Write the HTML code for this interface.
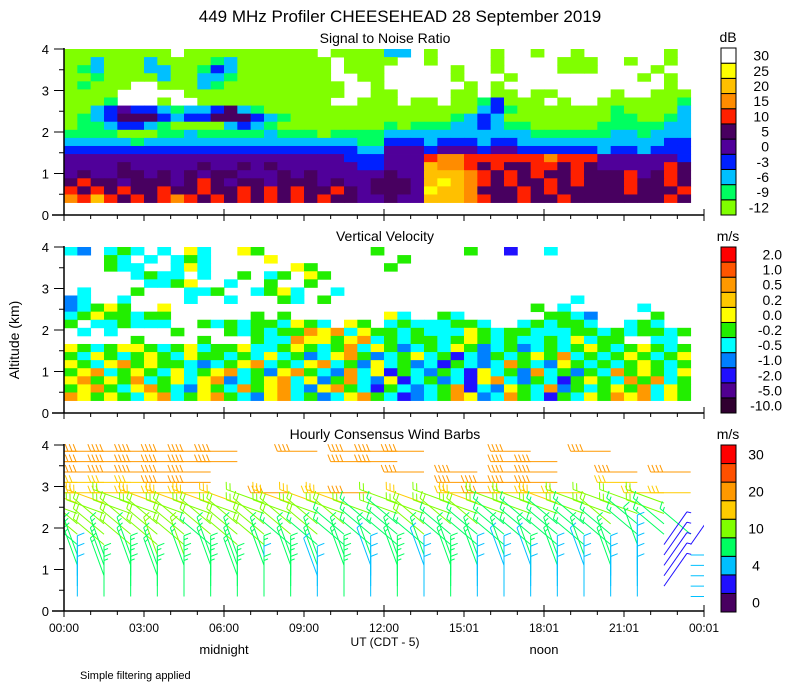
<!DOCTYPE html>
<html><head><meta charset="utf-8">
<style>
html,body{margin:0;padding:0;background:#fff;}
svg{display:block;font-family:"Liberation Sans",sans-serif;}
text{fill:#000;}
</style></head>
<body>
<svg id="chart" width="800" height="700" viewBox="0 0 800 700">
<defs>
<clipPath id="clip1"><rect x="64" y="40" width="640" height="176"/></clipPath>
<clipPath id="clip2"><rect x="64" y="238" width="640" height="176"/></clipPath>
<clipPath id="clip3"><rect x="64" y="436" width="640" height="176"/></clipPath>
</defs>
<text x="400" y="22" font-size="17" text-anchor="middle">449 MHz Profiler CHEESEHEAD 28 September 2019</text>
<text x="385" y="43" font-size="14" text-anchor="middle">Signal to Noise Ratio</text>
<text x="385" y="241" font-size="14" text-anchor="middle">Vertical Velocity</text>
<text x="385" y="439" font-size="14" text-anchor="middle">Hourly Consensus Wind Barbs</text>
<text transform="translate(19,340) rotate(-90)" font-size="14" text-anchor="middle">Altitude (km)</text>
<text x="385" y="646" font-size="12" text-anchor="middle">UT  (CDT - 5)</text>
<text x="224" y="654" font-size="13" text-anchor="middle">midnight</text>
<text x="544" y="654" font-size="13" text-anchor="middle">noon</text>
<text x="80" y="679" font-size="11">Simple filtering applied</text>
<g id="p1" clip-path="url(#clip1)"></g>
<g id="p2" clip-path="url(#clip2)"></g>
<g id="p3" clip-path="url(#clip3)"></g>
<g id="axes"></g>
<g id="bars"></g>
</svg>
<script>
// ---- data ----
var xTickLabels = ["00:00","03:00","06:00","09:00","12:00","15:01","18:01","21:01","00:01"];
var yTickLabels = ["0","1","2","3","4"];
// SNR grid (top row = highest altitude); left = 00-12 UT (24 half-hours), right = 12-23.5 UT (23)
var snrLeft = [
 "aaaaaaaa aaaaaaaaaa aaaa",
 "aacaaacaaaabcaaaaaaa aaa",
 "abcaaaccaabdcaaaaaaa aaa",
 "aabaaaacaaccbaaaaaaa  aa",
 "abaaa  aaacbaaaaaaaaa  a",
 "aaaa     aaaaaaaaaaaa  a",
 "aaab   a  aaaaaaaaaa  aa",
 "aacdeddcbccdfcbaaaaaaaaa",
 "abcdfffdcddfffdcbaaaaaaa",
 "abbcddcbaaaacdcbaaaaaaaa",
 "bbbbaaabbcbbbbbcbbbabbbb",
 "cccccbccccccccccccccccbb",
 "ddddddddddddddddddddddcc",
 "eeeeeeeeeeeeeeeeeeeeeddd",
 "eeeefeeeeefeefefeeeeeedd",
 "efeeffefefeffeeefefeeeee",
 "fgffefffefgfeffefffefeef",
 "gfgfgffgffgffgfgfgffgfef",
 "hgigfgfghgfgfgfgfgfgffee"
];
var snrRight = [
 "cc a    a  a  a      a ",
 "a  a    a    aaa  a  a ",
 "     a  a    aaa    a  ",
 "     a   a         a a ",
 "      a a            a ",
 "a    aa aa aa    a  aaa",
 "a aa aabdaaa a  aaaaaab",
 "aaaaaaacdbaaaaaaabaaaac",
 "aaaaabcdcaaaaaaaabbaabc",
 "babbbccdcbbaaaaabbbbbcc",
 "cccccccccccbbbbbbccbccc",
 "dddcdddcddcccccccccccdd",
 "eeedeeedeeddddddcddcddd",
 "eeeghhgggggghgggeeeeeed",
 "eeeihhgfgffggfgfeeeeegf",
 "feeiiihgfgfgffgfffgefgf",
 "ffeijihgfgffgfgfffgffgf",
 "ffejiihfffgfgfffffgfffg",
 "feeiiihgffgffgfffffffgf"
];
var snrCodes = "abcdefghijk";
var snrColors = ["#80ff00","#00ff60","#00c0ff","#0020ff","#50009a","#480060","#ff2000","#ff8c00","#ffc000","#ffff00","#ffffff"];
var snrLabels = ["-12","-9","-6","-3","0","5","10","15","20","25","30"];
// vertical velocity grid
var velRows = [
 "cb cgc c yc  yg        g      g  B  c         ",
 "   gc c cgc    y         g                    ",
 "   gcc  cyc      yg     g                     ",
 "     cgcc c  g cg yg                          ",
 "      ccgy  c  g  g                           ",
 " c   g   ccg  cgyc  c                         ",
 "bc  c    c  c   gc g                  c       ",
 "bcgyg  y                           g c     c  ",
 "cgyggcgg      g g       yc  gc      ggcb    g  ",
 "g ccgccc  gcgcggcygc yg cgcccggc  cgcggc  cgc  ",
 " c c    g   gcgcggOyOcyggcgcccygcggcccggcgcggcg",
 "     g    g   gccOyygyOcgcggcgygcgccgcycgg  cc ",
 "ygcgyygcgycggyccgygcgOcygbcgcygbcgbcgcgygcgygcg",
 "gcygcgygcyggcgcycgbcyOgbcgycgBcbgcgygOcgcgygcgy",
 "ygcyOgyggcbcgyOcgcyOcgbycgbcBgcbcOgcbygcgcgygcg",
 "gyOcgygcycgyOcgbyOgcbOcyBgcbgcBycgbOcgbgcOgygcy",
 "yOgygOcgycyObcgyOcybgOcbyBcgbcByOcbgcBgygcOgOcg",
 "gyOgcyOgcbygcOgyOcbyOgcBgcbcgOBcbygcObgcgygOcyg",
 "OygygcyOcgyOgcbyOcgbcyOgcBbcgOybcOgcBgcygOyOcyg"
];
var velCodes = "kpBbcgyoOrR";
var velColors = ["#300030","#500090","#2010ff","#0080ff","#00ffff","#22ee00","#ffff00","#ffc800","#ff9900","#ff5500","#ff0000"];
var velLabels = ["-10.0","-5.0","-2.0","-1.0","-0.5","-0.2","0.0","0.2","0.5","1.0","2.0"];
// wind barbs: rows top (3.85 km) to bottom (0.35 km), one char per hourly column
var windLevels = [3.85,3.6,3.35,3.1,2.85,2.6,2.35,2.1,1.85,1.6,1.35,1.1,0.85,0.6,0.35];
var windSpdRows = [
 "GGGGGGG  G GGG   G  G   ",
 "GGGGGGG    GG    GG     ",
 "GGGGGG       G G GG  G G",
 "FFFFGG         GGGG  F  ",
 "FFFFFF  G FG   FGFFF  FF",
 "FFEFFFFEFFF EFEFEEFEEEE ",
 "EEEEEEEEEEEEEEEEEEEEEEE ",
 "EEEEEEEEEEEDDEEEDDDDEDD ",
 "EEEEEEEEEEDDDEDDDDDDDDDD",
 "DEEEEDEEDDDDDDDDDDDDDDBB",
 "DDDEEDDDDDDDDDDDDDDDDCBC",
 "DDDDDDDDDDDCDCDDCCDCDCBC",
 "CDDDDDDDDCDCDCDCCDCCCCBC",
 "CDDDDDDCDCDCDCDCCCCCCCBC",
 "CDDDDDDDDCDCDCDCCCCCCC C"
];
var windDirRows = [
 "WWWWWWWWWWWWWWWWWWWWWWWW",
 "WWWWWWWWWWWWWWWWWWWWWWWW",
 "WWWWWWWWWWWWWWWWWWWWWWWW",
 "WWWWWWWWWWWWWWWWWWWWWWWW",
 "WWWWWWWWWWWWWWWWWWWWWWWW",
 "wwwwwwwwwwwwwwwwwwwwwwww",
 "wwwwwwwwwwwwwwwwwwwwwwww",
 "mmmmmmmmmmmmmmmmmmmmmmmm",
 "mmmmmmmmmmmmmmmmmmmmmmmm",
 "mmmmmmmmmmmmmmmmmmmmmnee",
 "nnnnnnnnnnnnnnnnnnnnnNeE",
 "nnnnnnnnnnnnnnnnnnnnnNeE",
 "NnNnNNnNNnNNNNNNNNNNNNeE",
 "NNNNNNNNNNNNNNNNNNNNNNeE",
 "NNNNNNNNNNNNNNNNNNNNNNNE"
];
var spdCodes = "ABCDEFGHI";
var spdValues = [1,3,5.5,8.5,12,17,22,27,32];
var windColors = ["#480060","#2010ff","#00c0ff","#00ff60","#80ff00","#ffcc00","#ff9900","#ff5000","#ff0000"];
var windLabels = ["0","4","10","20","30"];
var dirCodes = {W:270, w:290, m:310, n:340, N:0, e:35, E:90};

// ---- axes ----
var NS = "http://www.w3.org/2000/svg";
var X0 = 64, X1 = 704;
var panelBottoms = [215, 413, 611];
function xScale(h){ return X0 + h/24*(X1-X0); }
function yScale(p, km){ return panelBottoms[p] - km*41.5; }
function mk(tag, attrs, parent){
  var e = document.createElementNS(NS, tag);
  for (var k in attrs) e.setAttribute(k, attrs[k]);
  parent.appendChild(e); return e;
}
var axes = document.getElementById('axes');
for (var p=0; p<3; p++){
  var yl = mk('line',{x1:X0,y1:yScale(p,4)-1,x2:X0,y2:panelBottoms[p],stroke:'#000','stroke-width':1.5},axes);
  
  
  var xl = mk('line',{x1:52,y1:panelBottoms[p],x2:X1,y2:panelBottoms[p],stroke:'#000','stroke-width':1.5},axes);
  
  
  for (var k=0;k<yTickLabels.length;k++){
    var ty = yScale(p,k);
    mk('line',{x1:X0-10,y1:ty,x2:X0,y2:ty,stroke:'#000'},axes);
    if (k<4) mk('line',{x1:X0-5,y1:yScale(p,k+0.5),x2:X0,y2:yScale(p,k+0.5),stroke:'#000'},axes);
    var t = mk('text',{x:X0-15,y:ty+5,'font-size':13,'text-anchor':'end'},axes);
    t.textContent = yTickLabels[k];
    
    
  }
  for (var h=0; h<=24; h++){
    var big = (h%3===0);
    mk('line',{x1:xScale(h),y1:panelBottoms[p]+(h%6===0?-6:0),x2:xScale(h),y2:panelBottoms[p]+(big?6:4),stroke:'#000'},axes);
  }
}
for (var i=0;i<xTickLabels.length;i++){
  var t = mk('text',{x:xScale(i*3),y:632,'font-size':12,'text-anchor':'middle'},axes);
  t.textContent = xTickLabels[i];
  
  
}

// ---- heatmaps ----
function drawGrid(rows, codes, colors, g, p){
  var nR = rows.length, dh = (4-0.3)/nR;
  for (var r=0; r<nR; r++){
    var s = rows[r], lvl = nR-1-r;
    for (var c=0; c<47; c++){
      var ch = s.charAt(c);
      var idx = codes.indexOf(ch);
      if (!ch || idx<0) continue;
      var x = xScale(c*0.5), w = xScale(c*0.5+0.5)-x;
      var yTop = yScale(p, 0.3+(lvl+1)*dh), yBot = yScale(p, 0.3+lvl*dh);
      var rc = mk('rect',{x:x,y:yTop,width:w+0.4,height:yBot-yTop+0.4,fill:colors[idx]},g);
      
      
    }
  }
}
var snrRows = [];
for (var r=0; r<snrLeft.length; r++){
  snrRows.push(snrLeft[r].padEnd(24,' ').slice(0,24) + snrRight[r].padEnd(23,' ').slice(0,23));
}
drawGrid(snrRows, snrCodes, snrColors, document.getElementById('p1'), 0);
drawGrid(velRows, velCodes, velColors, document.getElementById('p2'), 1);

// ---- wind barbs ----
var g3 = document.getElementById('p3');
for (var r=0; r<windLevels.length; r++){
  for (var c=0; c<24; c++){
    var sc = windSpdRows[r].charAt(c), si = spdCodes.indexOf(sc);
    if (si<0) continue;
    var dc = windDirRows[r].charAt(c);
    var ang = (dirCodes[dc]!==undefined ? dirCodes[dc] : 270)*Math.PI/180;
    var ux = Math.sin(ang), uy = -Math.cos(ang);
    var px = -uy, py = ux;
    var sx = xScale(c+0.5), sy = yScale(2, windLevels[r]);
    var L = 40, col = windColors[si];
    var grp = mk('g',{stroke:col,'stroke-width':1,fill:'none'},g3);
    
    
    var tx = sx+ux*L, ty = sy+uy*L;
    mk('line',{x1:sx,y1:sy,x2:tx,y2:ty},grp);
    var spd = spdValues[si], full = Math.floor(spd/5), half = (spd%5)>=2.5 ? 1 : 0;
    var pos = 0;
    for (var f=0; f<full+half; f++){
      var bx = tx-ux*pos, by = ty-uy*pos;
      var len = (f<full) ? 7 : 4;
      mk('line',{x1:bx,y1:by,x2:bx+px*len+ux*len*0.4,y2:by+py*len+uy*len*0.4},grp);
      pos += 4;
    }
  }
}

// ---- colorbars ----
var bars = document.getElementById('bars');
function colorbar(colors, labels, top, bot, unit, labelX, anchor, labelIdx){
  var n = colors.length, bh = (bot-top)/n;
  for (var i=0;i<n;i++){
    var y = bot-(i+1)*bh;
    var b = mk('rect',{x:721,y:y,width:15,height:bh,fill:colors[i],stroke:'#000','stroke-width':1},bars);
    
    
  }
  for (var j=0;j<labels.length;j++){
    var bi = labelIdx ? labelIdx[j] : j;
    var t = mk('text',{x:labelX,y:bot-(bi+0.5)*bh+5,'font-size':14,'text-anchor':anchor},bars);
    t.textContent = labels[j];
    
    
  }
  var u = mk('text',{x:728,y:top-6,'font-size':14,'text-anchor':'middle'},bars);
  u.textContent = unit;
  
  
}
colorbar(snrColors, snrLabels, 48, 215, 'dB', 769, 'end');
colorbar(velColors, velLabels, 247, 413, 'm/s', 782, 'end');
colorbar(windColors, windLabels, 445, 612, 'm/s', 756, 'middle', [0,2,4,6,8]);
</script>
</body></html>
